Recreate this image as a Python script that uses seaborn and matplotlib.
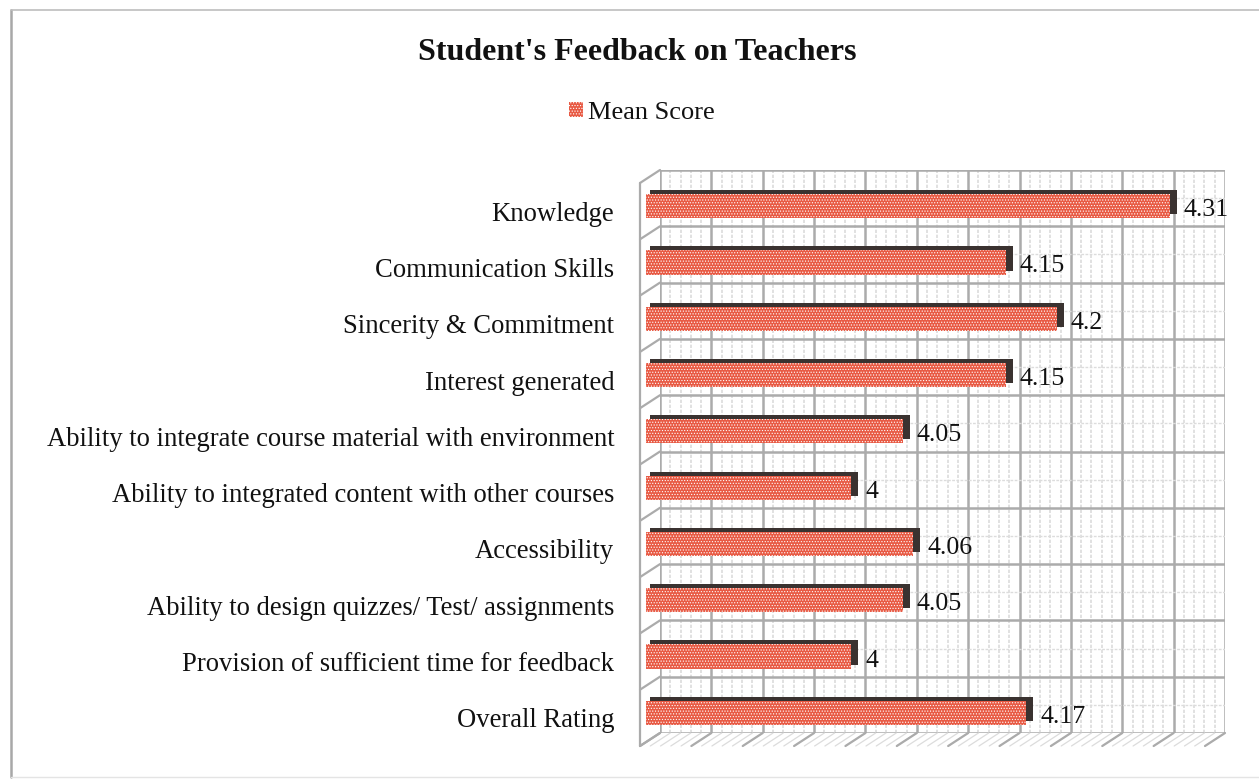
import matplotlib
matplotlib.use("Agg")
import numpy as np
import pandas as pd
import seaborn as sns
import matplotlib.pyplot as plt
from matplotlib.transforms import Affine2D

categories = ["Knowledge", "Communication Skills", "Sincerity & Commitment", "Interest generated",
              "Ability to integrate course material with environment",
              "Ability to integrated content with other courses", "Accessibility",
              "Ability to design quizzes/ Test/ assignments",
              "Provision of sufficient time for feedback", "Overall Rating"]
mean_score = [4.31, 4.15, 4.2, 4.15, 4.05, 4.0, 4.06, 4.05, 4.0, 4.17]
title = "Student's Feedback on Teachers"
series_name = "Mean Score"

W, H = 1259, 779
XMIN, XMAX = 3.8, 4.35
FRONT, TOP = "#E85A44", "#3A3230"
GRID, GRID_MINOR = "#ABABAB", "#DCDCDC"

sns.set_theme(style="white")
plt.rcParams["font.family"] = ["Liberation Serif", "DejaVu Serif"]
plt.rcParams["hatch.linewidth"] = 0.5
plt.rcParams["hatch.color"] = "#B83E30"

df = pd.DataFrame({"Category": categories, series_name: mean_score})
fig = plt.figure(figsize=(W / 100, H / 100), dpi=100, facecolor="white")
ax = fig.add_axes([660 / W, 1 - 733 / H, 565 / W, 563 / H])

def frame_line(x0, y0, x1, y1, color, lw):
    fig.add_artist(plt.Line2D([x0 / W, x1 / W], [1 - y0 / H, 1 - y1 / H], color=color, lw=lw,
                              transform=fig.transFigure, zorder=1))

frame_line(11, 10, 11, 777, "#A8A8A8", 1.8)
frame_line(11, 10, W, 10, "#BDBDBD", 1.2)
frame_line(11, 777, W, 777, "#E4E4E4", 1.0)

sns.barplot(data=df, y="Category", x=series_name, orient="h", color=TOP, width=0.43,
            saturation=1, linewidth=0, ax=ax, zorder=3)
sns.barplot(data=df, y="Category", x=series_name, orient="h", color=FRONT, width=0.43,
            saturation=1, linewidth=0, ax=ax, zorder=4, label=series_name)
shifts = [Affine2D().translate(-7, -4), Affine2D().translate(-14, -8)]
for container, shift in zip(ax.containers, shifts):
    for p in container:
        p.set_width(p.get_width() - XMIN)
        p.set_x(XMIN)
        p.set_transform(ax.transData + shift)
        p.set_clip_on(False)
for p in ax.containers[0]:
    # the dark top face starts just right of the front face's left edge
    p.set_width(p.get_width() + 0.003)
    p.set_x(XMIN - 0.003)
for p in ax.containers[1]:
    p.set_hatch("......")

ax.set_xlim(XMIN, XMAX)
ax.set_ylim(9.5, -0.5)
ax.set_xlabel("")
ax.set_ylabel("")
for s in ax.spines.values():
    s.set_visible(False)
ax.set_xticks(np.arange(XMIN, XMAX + 0.001, 0.05))
ax.set_xticks(np.arange(XMIN, XMAX + 0.001, 0.01), minor=True)
ax.set_yticks(np.arange(-0.5, 10, 1), minor=True)
ax.set_axisbelow(True)
ax.grid(which="major", axis="x", color=GRID, linewidth=1.8)
ax.grid(which="minor", axis="x", color=GRID_MINOR, linewidth=1.2, linestyle=(0, (2, 1)))
ax.grid(which="minor", axis="y", color=GRID, linewidth=1.8)
ax.grid(which="major", axis="y", color=GRID_MINOR, linewidth=1.0, linestyle=(0, (2, 1)))
ax.tick_params(axis="both", which="both", length=0)
ax.tick_params(axis="x", labelbottom=False)
ax.tick_params(axis="y", pad=33, labelsize=19.2, labelcolor="#111111")
for lab in ax.get_yticklabels():
    lab.set_transform(lab.get_transform() + Affine2D().translate(0, -13))

FRONT_OFF = (-20, -13)

def edge(xy0, off0, xy1, off1, color, lw):
    p0 = (ax.transData + Affine2D().translate(*off0)).transform(xy0)
    p1 = (ax.transData + Affine2D().translate(*off1)).transform(xy1)
    fig.add_artist(plt.Line2D([p0[0] / W, p1[0] / W], [p0[1] / H, p1[1] / H], color=color, lw=lw,
                              transform=fig.transFigure, zorder=1))

fig.canvas.draw()
for v in np.arange(XMIN, XMAX + 0.001, 0.01):
    edge((v, 9.5), (0, 0), (v, 9.5), FRONT_OFF, GRID_MINOR, 0.9)
for v in np.arange(XMIN, XMAX + 0.001, 0.05):
    edge((v, 9.5), (0, 0), (v, 9.5), FRONT_OFF, GRID, 1.6)
for b in np.arange(-0.5, 10, 1):
    edge((XMIN, b), (0, 0), (XMIN, b), FRONT_OFF, GRID, 1.6)
edge((XMIN, -0.5), FRONT_OFF, (XMIN, 9.5), FRONT_OFF, GRID, 1.6)

for i, v in enumerate(mean_score):
    ax.annotate(f"{v:g}", xy=(v, i), xytext=(0, -12), xycoords="data", textcoords="offset pixels",
                ha="left", va="center", fontsize=18.6, color="#111111", annotation_clip=False, zorder=6)

fig.text(637 / W, 1 - 53 / H, title, ha="center", va="center", fontsize=23,
         fontweight="bold", color="#111111")
handles, labels = ax.get_legend_handles_labels()
ax.legend(handles, labels, loc="center", bbox_to_anchor=(642 / W, 1 - 113 / H),
          bbox_transform=fig.transFigure, frameon=False, fontsize=19, handlelength=0.53,
          handleheight=0.53, handletextpad=0.19, labelcolor="#111111")

fig.savefig("out.png", dpi=100, facecolor="white")
